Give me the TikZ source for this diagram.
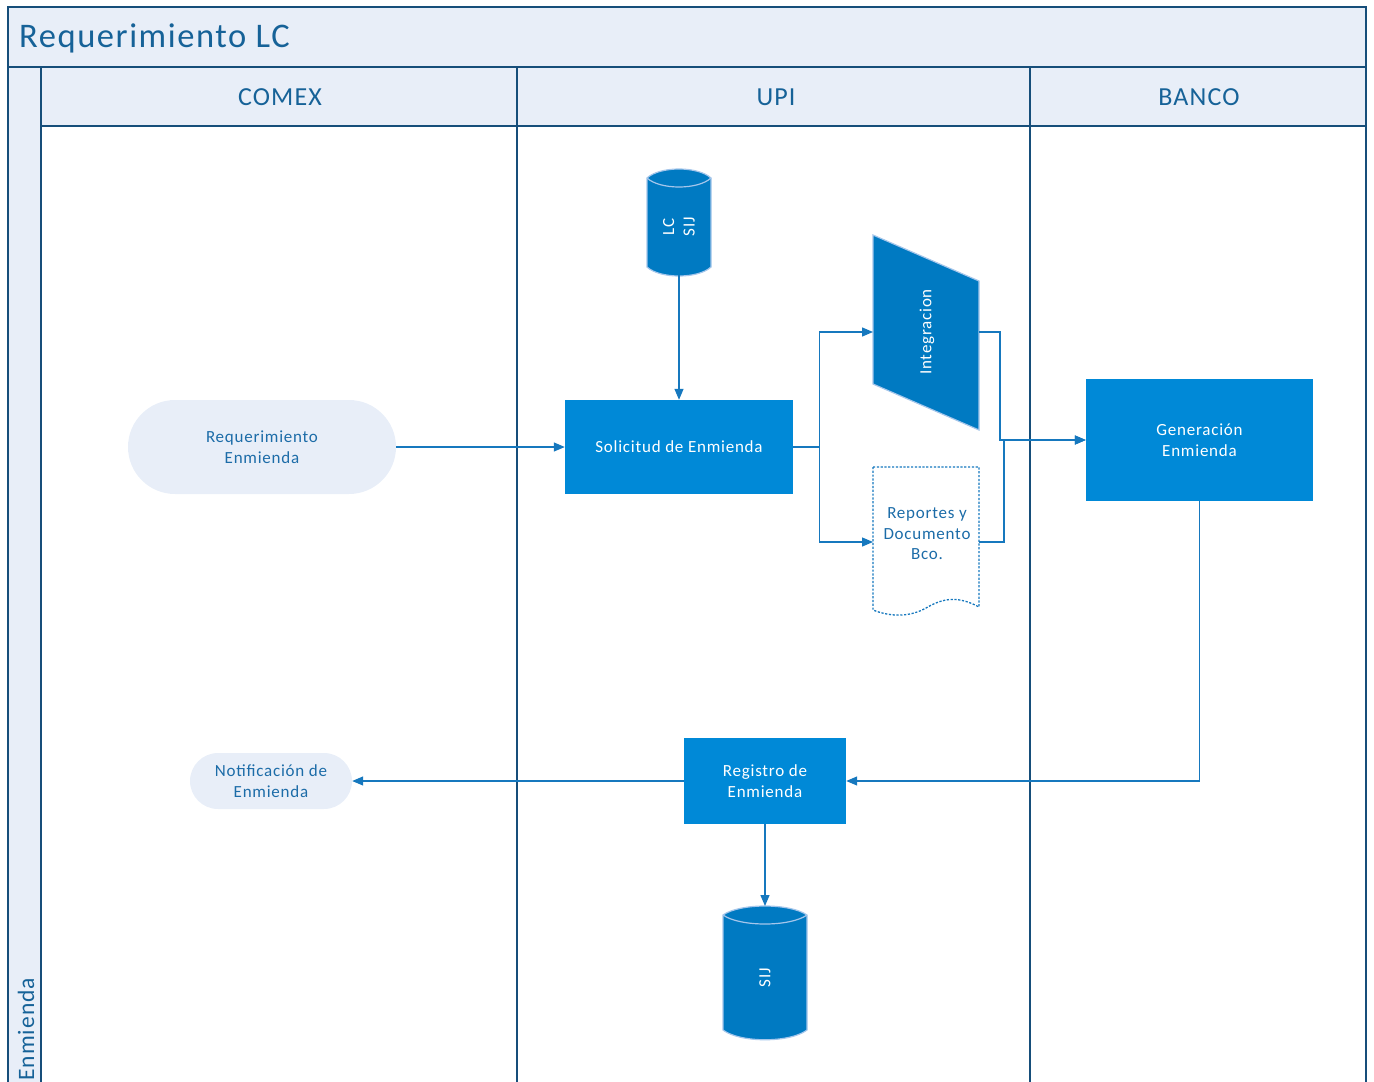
\documentclass[tikz,border=0pt]{standalone}
\usepackage{fontspec}
\setmainfont{Carlito}
\newfontfamily\spacedfamily{Carlito}[LetterSpace=4.5]
\usetikzlibrary{arrows.meta,calc}
\definecolor{framec}{RGB}{22,78,122}
\definecolor{bandfill}{RGB}{232,238,248}
\definecolor{titletxt}{RGB}{22,98,152}
\definecolor{procfill}{RGB}{0,137,215}
\definecolor{storfill}{RGB}{0,122,194}
\definecolor{storedge}{RGB}{165,198,235}
\definecolor{conn}{RGB}{22,120,190}
\definecolor{lbltxt}{RGB}{28,108,168}
\tikzset{
  lbl/.style={font=\spacedfamily\fontsize{17}{20.5}\selectfont, align=center},
  stadium/.style={lbl, fill=bandfill, text=lbltxt, inner sep=0pt},
  procbox/.style={lbl, fill=procfill, text=white, inner sep=0pt},
  ghost/.style={draw=none, inner sep=0pt, outer sep=0pt},
  cn/.style={draw=conn, line width=1.3pt, -{Triangle[length=11pt,width=9pt]}},
  lanehead/.style={font=\spacedfamily\fontsize{26}{30}\selectfont, text=titletxt},
  frameline/.style={draw=framec, line width=2pt},
  storline/.style={draw=storedge, line width=1.2pt}
}
\begin{document}
\begin{tikzpicture}[x=1pt,y=-1pt]
\useasboundingbox (0,0) rectangle (1374,1082);
% bands
\fill[bandfill] (8,7) rectangle (1366,67);
\fill[bandfill] (8,67) rectangle (41,1082);
\fill[bandfill] (41,67) rectangle (1366,126);
% frame lines
\draw[frameline] (8,1082) -- (8,7) -- (1366,7) -- (1366,1082);
\draw[frameline] (8,67) -- (1366,67);
\draw[frameline] (41,126) -- (1366,126);
\draw[frameline] (41,67) -- (41,1082);
\draw[frameline] (517,67) -- (517,1082);
\draw[frameline] (1030,67) -- (1030,1082);
% titles
\node[anchor=west, font=\spacedfamily\fontsize{34.5}{40}\selectfont, text=titletxt, inner sep=0pt] (title) at (19,38) {Requerimiento LC};
\node[lanehead] (hcomex) at (280,97) {COMEX};
\node[lanehead] (hupi) at (776,97) {UPI};
\node[lanehead] (hbanco) at (1199,97) {BANCO};
\node[text=titletxt, rotate=90, anchor=west, inner sep=0pt, font=\spacedfamily\fontsize{23.5}{28}\selectfont] (pool) at (26,1081) {Enmienda};

% nodes
\node[stadium, minimum width=268pt, minimum height=94pt, rounded corners=47pt] (req) at (262,447) {Requerimiento\\Enmienda};
\node[procbox, minimum width=228pt, minimum height=94pt] (sol) at (679,447) {Solicitud de Enmienda};
\node[procbox, minimum width=227pt, minimum height=122pt] (gen) at (1199.5,440) {Generación\\Enmienda};
\node[procbox, minimum width=162pt, minimum height=86pt] (reg) at (765,781) {Registro de\\Enmienda};
\node[stadium, minimum width=162pt, minimum height=56pt, rounded corners=28pt] (notif) at (271,781) {Notificación de\\Enmienda};

% LC SIJ cylinder
\node[ghost, minimum width=64pt, minimum height=105pt] (lcsij) at (679,222.5) {};
\fill[storfill] (647,178) .. controls (660,166) and (698,166) .. (711,178) -- (711,267) .. controls (698,279) and (660,279) .. (647,267) -- cycle;
\draw[storline] (647,178) .. controls (660,166) and (698,166) .. (711,178) -- (711,267) .. controls (698,279) and (660,279) .. (647,267) -- cycle;
\draw[storline] (647,178) .. controls (660,190) and (698,190) .. (711,178);
\node[lbl, text=white, rotate=90] (lcsijtxt) at (679,227) {LC\\SIJ};

% SIJ cylinder
\node[ghost, minimum width=84pt, minimum height=134pt] (sij) at (765,973) {};
\fill[storfill] (723,915) .. controls (740,903) and (790,903) .. (807,915) -- (807,1030) .. controls (790,1043) and (740,1043) .. (723,1030) -- cycle;
\draw[storline] (723,915) .. controls (740,903) and (790,903) .. (807,915) -- (807,1030) .. controls (790,1043) and (740,1043) .. (723,1030) -- cycle;
\draw[storline] (723,915) .. controls (740,927) and (790,927) .. (807,915);
\node[lbl, text=white, rotate=90] (sijtxt) at (765,978) {SIJ};

% Integracion
\node[ghost, minimum width=106pt, minimum height=196pt] (integ) at (926,332) {};
\fill[storfill] (873,235) -- (979,281) -- (979,430) -- (873,384) -- cycle;
\draw[storline] (873,235) -- (979,281) -- (979,430) -- (873,384) -- cycle;
\node[lbl, text=white, rotate=90] (integtxt) at (927,332) {Integracion};

% Reportes document
\node[ghost, minimum width=106pt, minimum height=150pt] (rep) at (926,542) {};
\draw[conn, line width=1.3pt, dash pattern=on 2.2pt off 1.6pt] (873,467) -- (979,467) -- (979,607) .. controls (955,594) and (940,600) .. (926,608) .. controls (912,616) and (893,618) .. (873,610) -- cycle;
\node[lbl, text=lbltxt] (reptxt) at (927,534) {Reportes y\\Documento\\Bco.};

% connectors
\draw[cn] (req.east) -- (sol.west);
\draw[cn] (lcsij.south) -- (sol.north);
\draw[cn] (sol.east) -- ++(26,0) |- (integ.west);
\draw[cn] (sol.east) -- ++(26,0) |- (rep.west);
\draw[cn] (integ.east) -- ++(21,0) |- (gen.west);
\draw[cn] (rep.east) -- ++(25,0) |- (gen.west);
\draw[cn] (gen.south) |- (reg.east);
\draw[cn] (reg.west) -- (notif.east);
\draw[cn] (reg.south) -- (sij.north);
\end{tikzpicture}
\end{document}
